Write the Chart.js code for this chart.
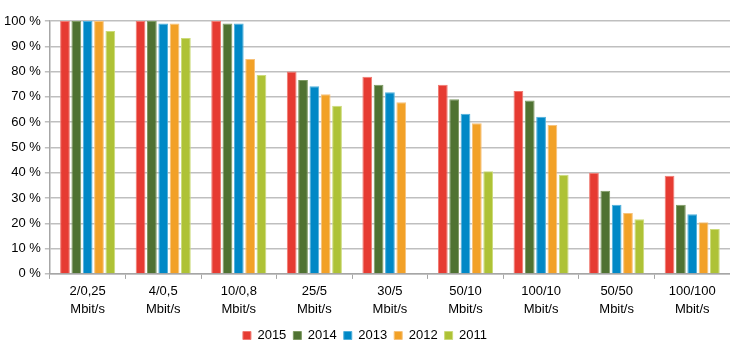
<!DOCTYPE html>
<html>
<head>
<meta charset="utf-8">
<script src="https://cdn.jsdelivr.net/npm/chart.js@4/dist/chart.umd.min.js"></script>
<style>
html,body{margin:0;padding:0;background:#fff;}
#wrap{width:730px;height:356px;}
</style>
</head>
<body>
<div id="wrap"><canvas id="c" width="730" height="356"></canvas></div>
<script>
const categories = [["2/0,25","Mbit/s"],["4/0,5","Mbit/s"],["10/0,8","Mbit/s"],["25/5","Mbit/s"],["30/5","Mbit/s"],["50/10","Mbit/s"],["100/10","Mbit/s"],["50/50","Mbit/s"],["100/100","Mbit/s"]];
const years = ["2015","2014","2013","2012","2011"];
const v2015 = [100, 100, 100, 80, 78, 74.8, 72.3, 40, 38.8];
const v2014 = [100, 100, 99, 76.7, 74.8, 69.1, 68.6, 32.9, 27.3];
const v2013 = [100, 99, 99, 74.2, 71.8, 63.3, 62.1, 27.3, 23.6];
const v2012 = [100, 99, 85, 71, 67.9, 59.6, 58.9, 24.1, 20.4];
const v2011 = [96, 93.3, 78.6, 66.5, null, 40.6, 39.2, 21.6, 17.8];
const yTicks = [0,10,20,30,40,50,60,70,80,90,100];

const colors = ["#E63B32","#4F7232","#0088C6","#F2A127","#AEC236"];
const borders = ["#F07A72","#7E9A63","#4FB0DC","#F7C27A","#CCDB7A"];
const series = [v2015, v2014, v2013, v2012, v2011];

new Chart(document.getElementById('c'), {
  type: 'bar',
  data: {
    labels: categories,
    datasets: series.map((d,i)=>({
      label: years[i],
      data: d,
      backgroundColor: colors[i],
      borderColor: borders[i],
      borderWidth: 1,
      categoryPercentage: 0.75,
      barPercentage: 0.86
    }))
  },
  options: {
    responsive: false,
    animation: false,
    layout: {padding: {top: 21, right: 0, bottom: 4, left: 0}},
    plugins: {
      tooltip: {enabled: false},
      legend: {
        position: 'bottom',
        labels: {
          boxWidth: 8, boxHeight: 8, padding: 7,
          color: '#000',
          font: {family: "'Liberation Sans', Arial, sans-serif", size: 13}
        }
      }
    },
    scales: {
      x: {
        grid: {drawOnChartArea: false, drawTicks: true, tickLength: 5, color: '#A6A6A6', lineWidth: 1},
        border: {color: '#A6A6A6', width: 1.5},
        ticks: {color: '#000', maxRotation: 0, autoSkip: false, padding: 4,
          font: {family: "'Liberation Sans', Arial, sans-serif", size: 13, lineHeight: 1.35}}
      },
      y: {
        min: 0, max: 100,
        afterBuildTicks: (ax)=>{ ax.ticks = yTicks.map(v=>({value:v})); },
        grid: {color: '#BFBFBF', lineWidth: 1.5, drawTicks: true, tickLength: 5},
        border: {color: '#A6A6A6', width: 1.5},
        ticks: {color: '#000', padding: 4, callback: v => v + ' %',
          font: {family: "'Liberation Sans', Arial, sans-serif", size: 13}}
      }
    }
  }
});
</script>
</body>
</html>
